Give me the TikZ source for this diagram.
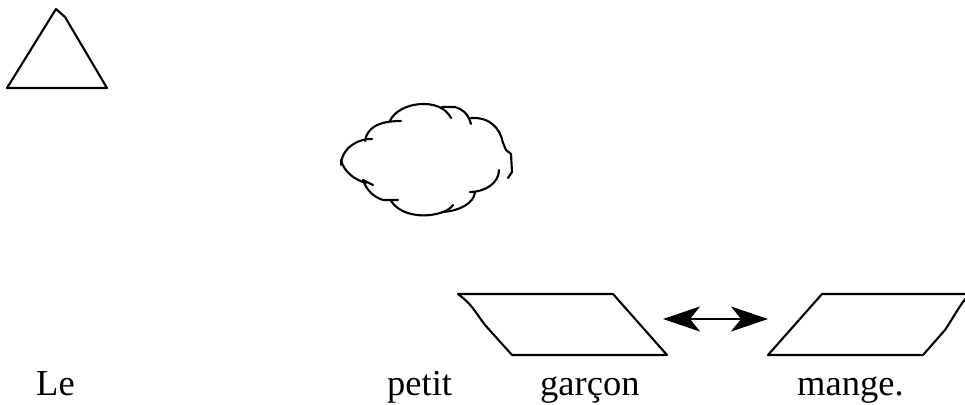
\documentclass[tikz,border=0pt]{standalone}
\usepackage{fontspec}
\setmainfont{Liberation Serif}
\usetikzlibrary{arrows.meta}
\begin{document}
\begin{tikzpicture}[x=1pt,y=-1pt,
  shapeline/.style={line width=2.1pt,line join=round,line cap=round},
  word/.style={anchor=base west,inner sep=0pt,font=\fontsize{36.5}{40}\selectfont}]
\useasboundingbox (0,0) rectangle (965,404);
% triangle
\draw[shapeline] (56,9) -- (65,17) -- (107,88) -- (7,88) -- cycle;
% cloud
\draw[shapeline] (341,165) .. controls (341,152) and (352,141) .. (368,139) -- (372,139);
\draw[shapeline] (365,141) .. controls (367,128) and (378,121) .. (401,121);
\draw[shapeline] (390,121) .. controls (398,102) and (440,96) .. (451,118);
\draw[shapeline] (442,107) -- (455,107) .. controls (462,109) and (468,113) .. (471,124);
\draw[shapeline] (471,118) .. controls (490,117) and (500,128) .. (503,143) -- (506,150) -- (511,154) -- (512,172) -- (508,178);
\draw[shapeline] (499,170) .. controls (499,183) and (485,192) .. (470,192);
\draw[shapeline] (475,192) .. controls (474,203) and (460,211) .. (442,212);
\draw[shapeline] (453,205) .. controls (445,217) and (405,222) .. (391,201);
\draw[shapeline] (398,200) -- (383,200) .. controls (373,197) and (366,189) .. (363,180) -- (373,185);
\draw[shapeline] (366,183) .. controls (355,180) and (344,172) .. (341,160);
% parallelogram 1
\draw[shapeline] (458,294) -- (613,294) -- (667,355) -- (512,355) -- (485,325) .. controls (478,316) and (472,305) .. (463,298) -- cycle;
% parallelogram 2
\draw[shapeline] (967,294) -- (822,294) -- (768,355) -- (923,355) -- (945,330) .. controls (953,318) and (958,308) .. (966,298);
% arrow
\coordinate (al) at (663,319);
\coordinate (ar) at (768,319);
\draw[line width=2pt,{Stealth[length=37pt,width=25pt,inset=10pt]}-{Stealth[length=37pt,width=25pt,inset=10pt]}] (al) -- (ar);
% words
\node[word] (le) at (36,395) {Le};
\node[word] (petit) at (387,395) {petit};
\node[word] (garcon) at (540,395) {garçon};
\node[word] (mange) at (797,395) {mange.};
\end{tikzpicture}
\end{document}
